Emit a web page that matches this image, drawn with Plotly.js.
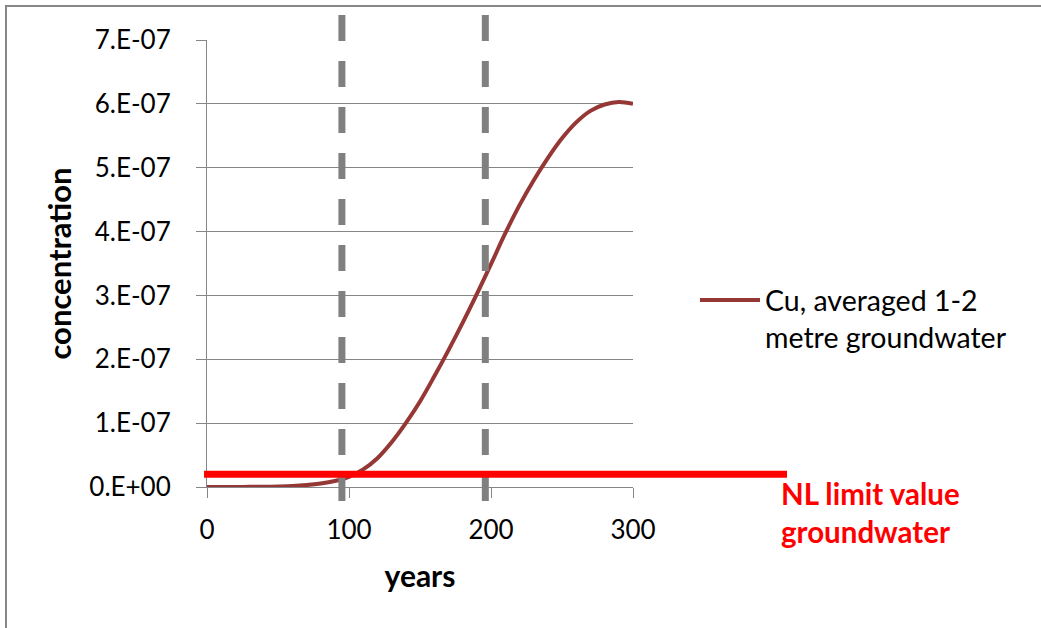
<!DOCTYPE html>
<html><head><meta charset="utf-8">
<script src="https://cdn.plot.ly/plotly-3.0.1.min.js"></script>
<style>html,body{margin:0;padding:0;background:#fff;overflow:hidden}#chart{width:1041px;height:628px}</style>
</head><body><div id="chart"></div>
<script>
// ---- data ----
const years = [0,10,20,30,40,50,60,70,80,90,100,110,120,130,140,150,160,170,180,190,200,210,220,230,240,250,260,270,280,290,300];
const cuConcentration = [0,0,0,2e-10,4e-10,8e-10,1.5e-9,3e-9,5.5e-9,9.5e-9,1.6e-8,2.75e-8,4.5e-8,7.0e-8,1.0e-7,1.34e-7,1.73e-7,2.14e-7,2.57e-7,3.02e-7,3.49e-7,3.97e-7,4.41e-7,4.8e-7,5.15e-7,5.46e-7,5.71e-7,5.89e-7,5.99e-7,6.03e-7,6.0e-7];
const seriesName = 'Cu, averaged 1-2<br>metre groundwater';
const markerYears = [95, 196];          // dashed vertical reference lines
const nlLimitValue = [2e-8];            // NL limit value groundwater
const limitLabel = 'NL limit value<br>groundwater';
const xTickVals = [0,100,200,300];
const xTickText = ['0','100','200','300'];
const yTickVals = [0,1e-7,2e-7,3e-7,4e-7,5e-7,6e-7,7e-7];
const yTickText = ['0.E+00','1.E-07','2.E-07','3.E-07','4.E-07','5.E-07','6.E-07','7.E-07'];

// ---- layout geometry ----
const W = 1041, H = 628, ML = 207, MR = 408, MT = 40, MB = 141;
const PW = W - ML - MR, PH = H - MT - MB;
const px = v => (v - ML) / PW;       // pixel -> paper x
const py = v => (H - MB - v) / PH;   // pixel -> paper y

const grey = '#868686';
const FONT = 'Lato, "Open Sans", sans-serif';

const shapes = [];
markerYears.forEach(yr => shapes.push({
  type: 'line', xref: 'x', yref: 'paper', x0: yr, x1: yr, y0: py(15), y1: py(501),
  line: {color: '#808080', width: 7, dash: '26px,20px'}, layer: 'above'
}));
nlLimitValue.forEach(v => shapes.push({
  type: 'line', xref: 'paper', yref: 'y', x0: px(204), x1: px(787), y0: v, y1: v,
  line: {color: '#ff0000', width: 7}, layer: 'above'
}));
shapes.push({
  type: 'rect', xref: 'paper', yref: 'paper', x0: px(6), x1: px(1060), y0: py(6), y1: py(650),
  line: {color: grey, width: 2}, fillcolor: 'rgba(0,0,0,0)', layer: 'below'
});

const data = [{
  x: years, y: cuConcentration, type: 'scatter', mode: 'lines', name: seriesName,
  line: {color: '#953735', width: 4, shape: 'spline', smoothing: 1}
}];

const layout = {
  width: W, height: H,
  margin: {l: ML, r: MR, t: MT, b: MB, pad: 0},
  paper_bgcolor: '#fff', plot_bgcolor: '#fff',
  font: {family: FONT, color: '#000'},
  showlegend: true,
  legend: {
    x: px(695), y: py(275), xanchor: 'left', yanchor: 'top',
    font: {family: FONT, size: 28.5, color: '#000'}, valign: 'top',
    bgcolor: 'rgba(0,0,0,0)', borderwidth: 0, itemwidth: 60
  },
  xaxis: {
    range: [0, 300], tickvals: xTickVals, ticktext: xTickText,
    showgrid: false, zeroline: false, showline: true, linecolor: grey, linewidth: 1,
    ticks: 'outside', ticklen: 10, tickcolor: grey, tickwidth: 1, ticklabelstandoff: 10,
    tickfont: {family: FONT, size: 26, color: '#000'},
    title: {text: 'years', font: {family: FONT, size: 30, color: '#000', weight: 'bold'}, standoff: 21}
  },
  yaxis: {
    range: [0, 7e-7], tickvals: yTickVals, ticktext: yTickText,
    showgrid: true, gridcolor: grey, gridwidth: 1, zeroline: false,
    showline: true, linecolor: grey, linewidth: 1,
    ticks: 'outside', ticklen: 10, tickcolor: grey, tickwidth: 1, ticklabelstandoff: 20,
    tickfont: {family: FONT, size: 26, color: '#000'},
    title: {text: 'concentration', font: {family: FONT, size: 31, color: '#000', weight: 'bold'}, standoff: 8}
  },
  shapes: shapes,
  annotations: [{
    xref: 'paper', yref: 'paper', x: px(779), y: py(474), xanchor: 'left', yanchor: 'top',
    text: limitLabel, showarrow: false, align: 'left',
    font: {family: FONT, size: 29.5, color: '#ff0000', weight: 'bold'}
  }]
};

Plotly.newPlot('chart', data, layout, {displayModeBar: false, staticPlot: true});
</script>
</body></html>
